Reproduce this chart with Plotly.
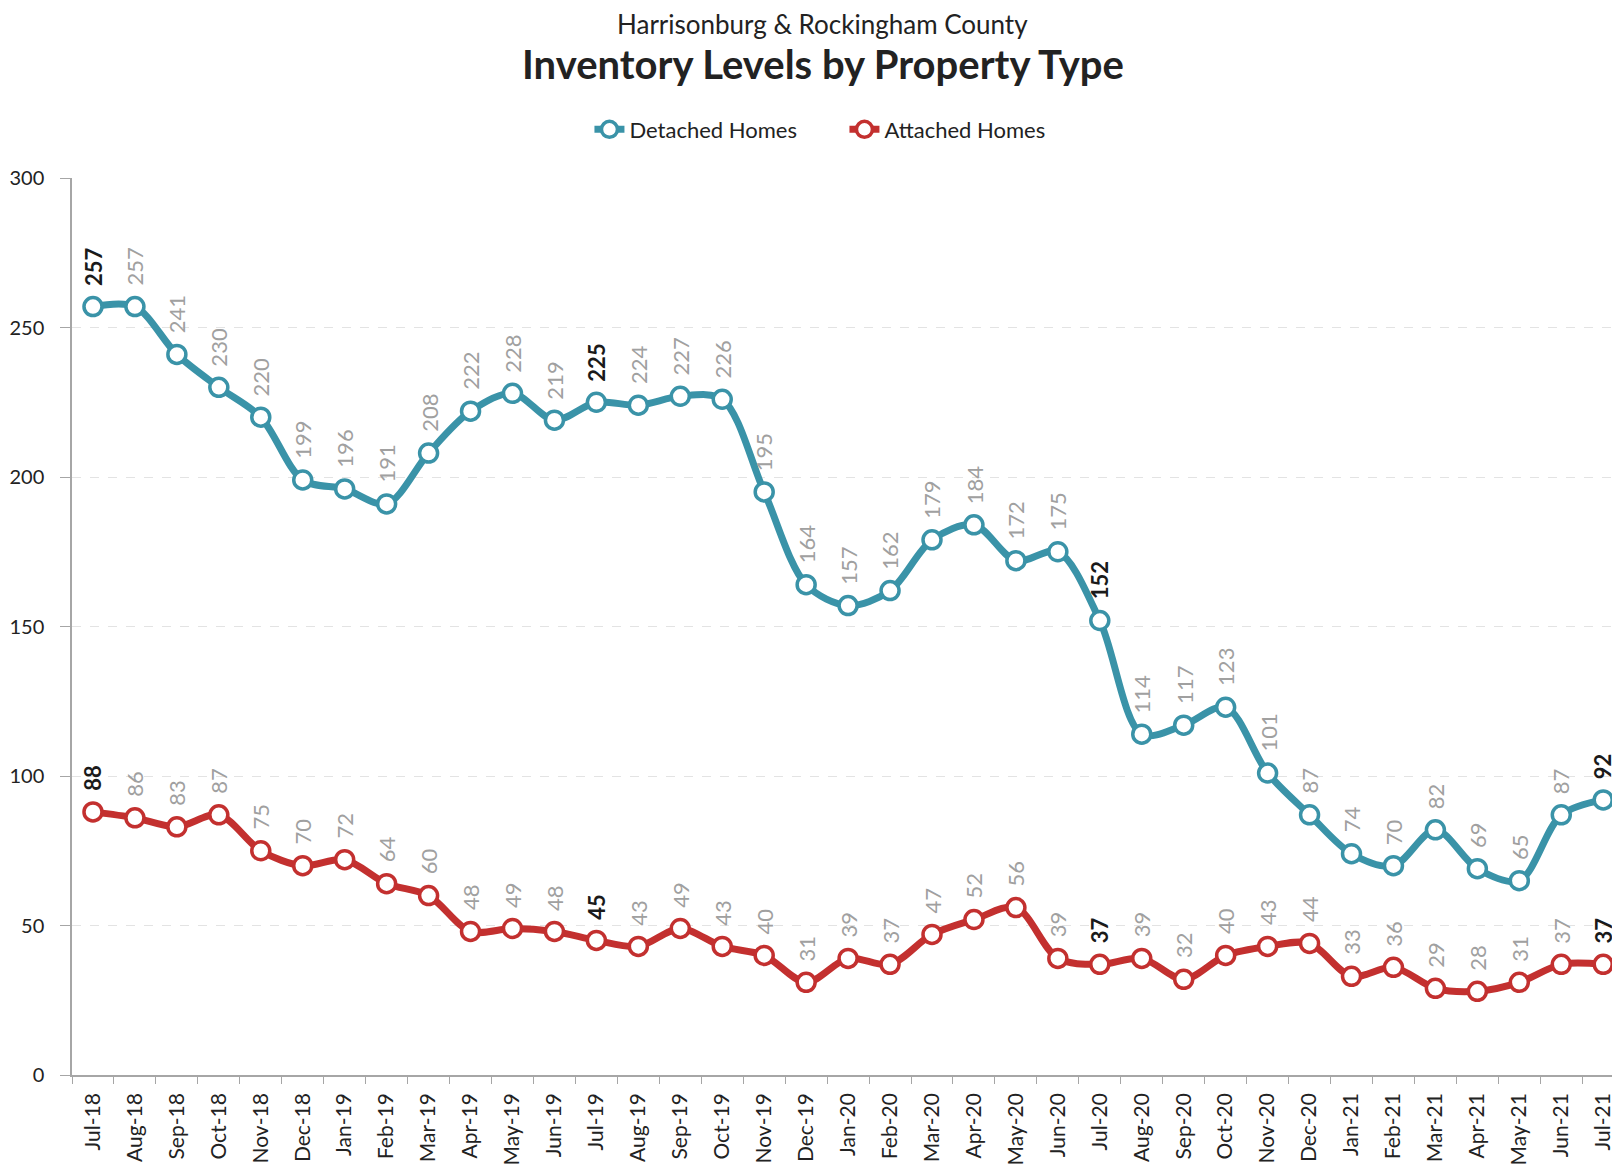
import plotly.graph_objects as go

months = ["Jul-18","Aug-18","Sep-18","Oct-18","Nov-18","Dec-18","Jan-19","Feb-19","Mar-19","Apr-19",
          "May-19","Jun-19","Jul-19","Aug-19","Sep-19","Oct-19","Nov-19","Dec-19","Jan-20","Feb-20",
          "Mar-20","Apr-20","May-20","Jun-20","Jul-20","Aug-20","Sep-20","Oct-20","Nov-20","Dec-20",
          "Jan-21","Feb-21","Mar-21","Apr-21","May-21","Jun-21","Jul-21"]
detached = [257,257,241,230,220,199,196,191,208,222,228,219,225,224,227,226,195,164,157,162,
            179,184,172,175,152,114,117,123,101,87,74,70,82,69,65,87,92]
attached = [88,86,83,87,75,70,72,64,60,48,49,48,45,43,49,43,40,31,39,37,
            47,52,56,39,37,39,32,40,43,44,33,36,29,28,31,37,37]

TEAL = "#3a93a8"
RED = "#c3302f"
FONT = "Lato"

fig = go.Figure()
for name, vals, col in [("Detached Homes", detached, TEAL), ("Attached Homes", attached, RED)]:
    fig.add_trace(go.Scatter(
        x=months, y=vals, name=name, mode="lines+markers",
        line=dict(color=col, width=7, shape="spline", smoothing=0.9),
        marker=dict(size=18, color="white", line=dict(color=col, width=3.5)),
        cliponaxis=False,
    ))

annotations = []
for vals in (detached, attached):
    for i, (m, v) in enumerate(zip(months, vals)):
        bold = m.startswith("Jul")
        annotations.append(dict(
            x=m, y=v, xref="x", yref="y", text=(f"<b>{v}</b>" if bold else str(v)),
            showarrow=False, textangle=-90, xanchor="center", yanchor="bottom", yshift=19,
            font=dict(family=FONT, size=22, color="#1a1a1a" if bold else "#a0a0a0"),
        ))

annotations.append(dict(x=0.485, y=1.172, xref="paper", yref="paper", showarrow=False,
                        text="Harrisonburg & Rockingham County", xanchor="center", yanchor="middle",
                        borderpad=0, font=dict(family=FONT, size=26, color="#222")))
annotations.append(dict(x=0.485, y=1.127, xref="paper", yref="paper", showarrow=False,
                        text="<b>Inventory Levels by Property Type</b>", xanchor="center", yanchor="middle",
                        borderpad=0, font=dict(family=FONT, size=40, color="#222")))

fig.update_layout(
    width=1620, height=1167,
    margin=dict(l=64, r=8, t=170, b=100),
    plot_bgcolor="white", paper_bgcolor="white",
    showlegend=True,
    legend=dict(orientation="h", x=0.499, y=1.054, xanchor="center", yanchor="middle",
                font=dict(family=FONT, size=22, color="#222"), entrywidth=210,
                bgcolor="rgba(0,0,0,0)"),
    annotations=annotations,
    xaxis=dict(type="category", range=[-0.5, 36.4], showgrid=False, automargin=False,
               showline=True, linecolor="#a6a6a6", linewidth=1.5,
               ticks="outside", ticklen=7, tickcolor="#a6a6a6", tickson="boundaries",
               ticklabelstandoff=8,
               tickangle=-90, tickfont=dict(family=FONT, size=21, color="#222")),
    yaxis=dict(range=[0, 300], dtick=50, showgrid=True, gridcolor="#e3e3e3", griddash="dash",
               gridwidth=1, zeroline=False, automargin=False,
               showline=True, linecolor="#a6a6a6", linewidth=1.5,
               ticks="outside", ticklen=10, tickcolor="#a6a6a6", ticklabelstandoff=12,
               tickfont=dict(family=FONT, size=20, color="#222")),
)

fig.write_html("out.html")
